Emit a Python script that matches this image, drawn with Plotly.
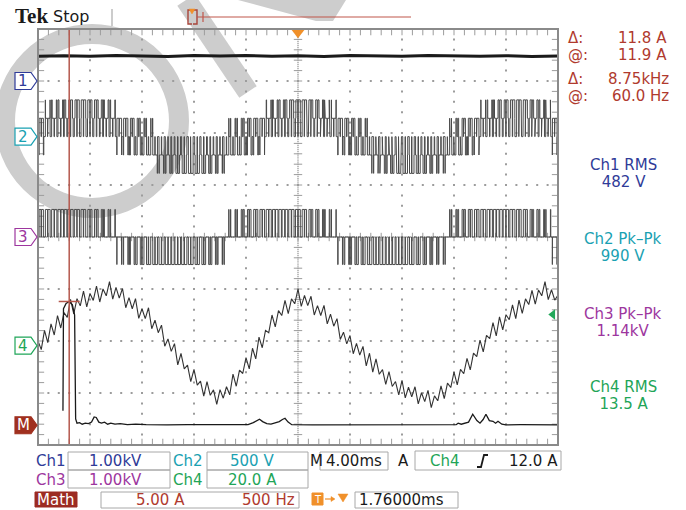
import plotly.graph_objects as go

W, H = 686, 510
GX0, GX1 = 38, 558      # graticule left/right (px)
GY0, GY1 = 29, 445      # graticule top/bottom (px)

# ---------------- channel setup ----------------
time_per_div = 4.0          # ms/div
t_left = -20.0              # ms at left edge
ch1_scale, ch1_pos = 1000.0, 3.0     # V/div, divisions above centre
ch2_scale, ch2_pos = 500.0, 1.93
ch3_scale, ch3_pos = 1000.0, 0.0
ch4_scale, ch4_pos = 20.0, -2.09
math_scale, math_pos = 5.0, -3.62
freq_per_div = 500.0        # Hz/div
freq_left = -240.0          # Hz at left edge

# ---------------- data ----------------
# Ch1: DC link voltage (V)
ch1_t = [-20, -18, -16, -14, -12, -10, -8, -6, -4, -2, 0, 2, 4, 6, 8, 10, 12, 14, 16, 18, 20]
ch1_v = [478, 486, 474, 490, 481, 470, 488, 479, 492, 476, 484, 471, 489, 480, 475, 491, 482, 477, 486, 473, 483]

# Inverter leg duty cycles, one value per 0.5 ms switching period (centred pulses)
pwm_period = 0.5
v_dc = 530.0
leg_a = [0.659, 0.735, 0.803, 0.860, 0.904, 0.934, 0.949, 0.947, 0.931, 0.898,
         0.852, 0.793, 0.724, 0.648, 0.566, 0.481, 0.397, 0.317, 0.244, 0.179,
         0.126, 0.086, 0.060, 0.050, 0.056, 0.078, 0.114, 0.165, 0.226, 0.298,
         0.377, 0.460, 0.545, 0.627, 0.706, 0.777, 0.838, 0.888, 0.923, 0.945,
         0.950, 0.939, 0.913, 0.872, 0.818, 0.753, 0.679, 0.598, 0.515, 0.430,
         0.348, 0.271, 0.203, 0.145, 0.100, 0.068, 0.052, 0.052, 0.067, 0.098,
         0.143, 0.201, 0.269, 0.345, 0.427, 0.511, 0.595, 0.676, 0.750, 0.815,
         0.870, 0.911, 0.938, 0.950, 0.945, 0.925, 0.890, 0.841, 0.780, 0.709]
leg_b = [0.056, 0.050, 0.060, 0.086, 0.126, 0.180, 0.244, 0.319, 0.398, 0.482,
         0.567, 0.649, 0.726, 0.794, 0.853, 0.899, 0.931, 0.948, 0.949, 0.934,
         0.903, 0.859, 0.802, 0.734, 0.658, 0.577, 0.492, 0.408, 0.328, 0.253,
         0.186, 0.132, 0.090, 0.063, 0.050, 0.055, 0.074, 0.109, 0.157, 0.217,
         0.288, 0.366, 0.449, 0.533, 0.617, 0.696, 0.768, 0.831, 0.882, 0.920,
         0.943, 0.950, 0.941, 0.917, 0.878, 0.826, 0.762, 0.689, 0.610, 0.526,
         0.441, 0.359, 0.281, 0.212, 0.152, 0.105, 0.072, 0.053, 0.051, 0.064,
         0.093, 0.136, 0.193, 0.259, 0.334, 0.416, 0.500, 0.584, 0.665, 0.740]
leg_c = [0.785, 0.715, 0.637, 0.555, 0.470, 0.387, 0.307, 0.234, 0.172, 0.119,
         0.081, 0.058, 0.050, 0.058, 0.082, 0.120, 0.172, 0.235, 0.308, 0.387,
         0.471, 0.556, 0.638, 0.716, 0.786, 0.846, 0.894, 0.928, 0.946, 0.949,
         0.937, 0.908, 0.865, 0.811, 0.744, 0.669, 0.587, 0.503, 0.419, 0.338,
         0.262, 0.195, 0.138, 0.095, 0.065, 0.050, 0.053, 0.071, 0.103, 0.150,
         0.209, 0.279, 0.356, 0.437, 0.522, 0.606, 0.686, 0.759, 0.823, 0.876,
         0.916, 0.941, 0.950, 0.943, 0.921, 0.884, 0.833, 0.771, 0.699, 0.620,
         0.537, 0.452, 0.369, 0.292, 0.221, 0.159, 0.110, 0.075, 0.055, 0.050]

# Ch4: phase current (A), sampled every 0.25 ms
ch4_dt = 0.25
ch4_i = [1.8, -1.5, 5.9, 1.2, 8.4, 4.1, 11.6, 6.8, 12.7, 10.9,
         17.8, 12.2, 18.1, 15.3, 21.0, 14.9, 20.1, 17.4, 22.9, 16.8,
         21.8, 19.2, 24.6, 17.9, 22.4, 18.3, 22.0, 14.6, 18.5, 14.2,
         18.1, 10.5, 14.2, 10.4, 14.6, 6.5, 9.8, 5.0, 7.9, -0.2,
         2.6, -2.2, 0.8, -7.4, -3.0, -8.9, -7.5, -13.8, -9.1, -15.2,
         -13.6, -19.4, -13.8, -19.1, -17.0, -22.6, -16.9, -20.2, -15.8, -18.9,
         -10.9, -15.6, -9.4, -10.7, -4.6, -8.9, -1.0, -5.1, 3.3, -0.8,
         5.9, 5.0, 11.8, 7.2, 13.5, 11.6, 17.4, 12.3, 18.0, 16.1,
         21.8, 15.1, 19.3, 15.4, 19.0, 11.8, 15.4, 11.6, 15.5, 8.4,
         12.1, 7.5, 10.4, 2.4, 5.2, 0.7, 3.9, -3.1, 0.9, -3.6,
         -0.3, -7.8, -2.9, -10.2, -5.1, -11.0, -9.2, -14.9, -10.0, -15.7,
         -13.8, -18.9, -13.3, -20.1, -16.0, -19.7, -15.8, -22.4, -18.1, -21.5,
         -17.2, -23.8, -19.3, -21.2, -15.5, -20.4, -14.4, -16.1, -10.2, -15.1,
         -9.1, -10.8, -4.9, -9.3, -2.9, -4.2, 2.1, -2.4, 4.0, 2.7,
         8.9, 3.8, 11.1, 6.1, 11.9, 10.0, 15.7, 10.4, 17.5, 12.4,
         18.0, 15.8, 21.3, 16.0, 21.4, 19.2, 24.6, 17.7, 21.5, 17.5,
         19.5]

# Math: FFT of Ch4 (Hz, A)
fft_f = [0, 5, 30, 60, 90, 112, 122, 135, 160, 185, 215, 245, 275, 300, 320, 345, 370,
         400, 430, 460, 500, 550, 620, 700, 800, 900, 1000, 1200, 1400, 1600, 1780,
         1830, 1860, 1890, 1920, 1960, 2000, 2040, 2080, 2110, 2135, 2165, 2200, 2400,
         2800, 3200, 3600, 3780, 3800, 3830, 3900, 3940, 3980, 4010, 4040, 4067, 4100,
         4135, 4160, 4183, 4220, 4260, 4400, 4760]
fft_a = [1.4, 11.2, 11.7, 11.9, 11.6, 10.6, 0.6, 0.2, 0.25, 0.1, 0.2, 0.15, 0.3, 0.8,
         0.75, 0.3, 0.2, 0.3, 0.1, 0.2, 0.1, 0.15, 0.05, 0.1, 0.05, 0.08, 0.04, 0.05,
         0.04, 0.05, 0.06, 0.25, 0.45, 0.58, 0.35, 0.15, 0.1, 0.2, 0.35, 0.55, 0.67,
         0.3, 0.05, 0.04, 0.05, 0.04, 0.05, 0.05, 0.2, 0.1, 0.3, 1.06, 0.45, 0.2,
         0.55, 1.06, 0.45, 0.38, 0.2, 0.38, 0.1, 0.04, 0.05, 0.04]

cursor_freq = 60.0
cursor_amp = 11.9

# ---------------- helpers ----------------
def xp(x):
    return x / W


def yp(y):
    return 1 - y / H


def yrange(scale, pos):
    return [(-4 - pos) * scale, (4 - pos) * scale]


def inverter_output(weights):
    """Step waveform sum(w * leg_state) * v_dc for centred leg pulses."""
    legs = (leg_a, leg_b, leg_c)
    xs, ys = [], []
    for k in range(len(leg_a)):
        t0 = t_left + k * pwm_period
        events = []
        for leg, w in zip(legs, weights):
            d = leg[k]
            events.append((t0 + (1 - d) / 2 * pwm_period, w))
            events.append((t0 + (1 + d) / 2 * pwm_period, -w))
        events.sort()
        level = 0.0
        xs.append(t0); ys.append(0.0)
        for t, dw in events:
            xs.append(t); ys.append(level * v_dc)
            level += dw
            xs.append(t); ys.append(level * v_dc)
    xs.append(t_left + len(leg_a) * pwm_period); ys.append(0.0)
    return xs, ys


def paper_path(points, close=True):
    p = "M " + " L ".join(f"{xp(a):.5f},{yp(b):.5f}" for a, b in points)
    return p + (" Z" if close else "")


fig = go.Figure()

# faint background emblem
SHADE = "#cdcdcd"
fig.add_shape(type="circle", xref="paper", yref="paper", layer="below",
              x0=xp(92 - 87), x1=xp(92 + 87), y0=yp(121 + 87), y1=yp(121 - 87),
              line=dict(color=SHADE, width=20))
fig.add_shape(type="line", xref="paper", yref="paper", layer="below",
              x0=xp(186), y0=yp(0), x1=xp(248), y1=yp(92),
              line=dict(color=SHADE, width=21))
fig.add_shape(type="path", xref="paper", yref="paper", layer="below",
              path=paper_path([(238, 0), (346, 0), (333, 21), (316, 21)]),
              fillcolor=SHADE, line=dict(width=0))

# ---------------- graticule ----------------
GRID = "#9c9c9c"
dx, dy = [], []
for i in range(1, 10):
    if i == 5:
        continue
    for j in range(41):
        dx.append(t_left + i * time_per_div)
        dy.append(-4 + 0.2 * j)
for j in range(1, 8):
    if j == 4:
        continue
    for i in range(51):
        dx.append(t_left + 0.8 * i)
        dy.append(-4 + j)
fig.add_trace(go.Scatter(x=dx, y=dy, mode="markers", hoverinfo="skip",
                         marker=dict(symbol="square", size=2, color=GRID, line_width=0)))

# centre cross (fine dotted) and minor ticks
cx, cy = [], []
for j in range(201):
    cx.append(0); cy.append(-4 + 0.04 * j)
for i in range(251):
    cx.append(t_left + 0.16 * i); cy.append(0)
fig.add_trace(go.Scatter(x=cx, y=cy, mode="markers", hoverinfo="skip",
                         marker=dict(symbol="square", size=1.3, color=GRID, line_width=0)))
tx_ns, ty_ns, tx_ew, ty_ew = [], [], [], []
for i in range(51):
    tt = t_left + 0.8 * i
    for yy in (-3.96, 0, 3.96):
        tx_ns.append(tt); ty_ns.append(yy)
for j in range(41):
    vv = -4 + 0.2 * j
    for tt in (-19.85, 0, 19.85):
        tx_ew.append(tt); ty_ew.append(vv)
fig.add_trace(go.Scatter(x=tx_ns, y=ty_ns, mode="markers", hoverinfo="skip",
                         marker=dict(symbol="line-ns", size=6, line=dict(width=1, color=GRID))))
fig.add_trace(go.Scatter(x=tx_ew, y=ty_ew, mode="markers", hoverinfo="skip",
                         marker=dict(symbol="line-ew", size=6, line=dict(width=1, color=GRID))))

# ---------------- waveforms ----------------
x3, y3 = inverter_output((1.0, -1.0, 0.0))                  # line-to-line a-b
fig.add_trace(go.Scatter(x=x3, y=y3, yaxis="y4", mode="lines", hoverinfo="skip",
                         line=dict(color="#4a4a4a", width=1)))
x2, y2 = inverter_output((2 / 3, -1 / 3, -1 / 3))           # phase a to neutral
fig.add_trace(go.Scatter(x=x2, y=y2, yaxis="y3", mode="lines", hoverinfo="skip",
                         line=dict(color="#4a4a4a", width=1)))
fig.add_trace(go.Scatter(x=ch1_t, y=ch1_v, yaxis="y2", mode="lines", hoverinfo="skip",
                         line=dict(color="#1a1a1a", width=3)))
ch4_t = [t_left + ch4_dt * k for k in range(len(ch4_i))]
fig.add_trace(go.Scatter(x=ch4_t, y=ch4_i, yaxis="y5", mode="lines", hoverinfo="skip",
                         line=dict(color="#333333", width=1.1)))
fig.add_trace(go.Scatter(x=fft_f, y=fft_a, xaxis="x2", yaxis="y6", mode="lines",
                         hoverinfo="skip", line=dict(color="#1a1a1a", width=1.3)))

# cursors
CUR = "#b5584d"
fig.add_shape(type="line", xref="x2", yref="paper", x0=cursor_freq, x1=cursor_freq,
              y0=yp(GY1), y1=yp(GY0), line=dict(color=CUR, width=1.5))
fig.add_trace(go.Scatter(x=[cursor_freq], y=[cursor_amp], xaxis="x2", yaxis="y6",
                         mode="markers", hoverinfo="skip",
                         marker=dict(symbol="line-ew", size=15, line=dict(width=1.5, color=CUR))))

# border
fig.add_shape(type="rect", xref="paper", yref="paper", x0=xp(GX0), x1=xp(GX1),
              y0=yp(GY1), y1=yp(GY0), line=dict(color="#8a8a8a", width=2))

# trigger position and level markers
ORANGE = "#f0902a"
fig.add_trace(go.Scatter(x=[0], y=[3.93], mode="markers", hoverinfo="skip",
                         marker=dict(symbol="triangle-down", size=11, color=ORANGE)))
fig.add_trace(go.Scatter(x=[19.6], y=[12.0], yaxis="y5", mode="markers", hoverinfo="skip",
                         marker=dict(symbol="triangle-left", size=9, color="#22a85a")))

# ---------------- channel markers ----------------
def chan_marker(yc, color, label, filled=False):
    x_l, x_r, tip, h = 15, 31, 37, 17
    pts = [(x_l, yc - h / 2), (x_r, yc - h / 2), (tip, yc), (x_r, yc + h / 2), (x_l, yc + h / 2)]
    fig.add_shape(type="path", xref="paper", yref="paper", path=paper_path(pts),
                  fillcolor=color if filled else "white",
                  line=dict(color=color, width=1.2))
    fig.add_annotation(x=xp(23), y=yp(yc), xref="paper", yref="paper", text=label,
                       showarrow=False, xanchor="center", yanchor="middle", borderpad=0,
                       font=dict(family="DejaVu Sans", size=15,
                                 color="white" if filled else color))


C1, C2, C3, C4, CM = "#2f3b98", "#1aa1b2", "#9d369e", "#1fa558", "#a0301f"
gc = lambda pos: 237 - pos * 52
chan_marker(gc(ch1_pos), C1, "1")
chan_marker(gc(ch2_pos), C2, "2")
chan_marker(gc(ch3_pos), C3, "3")
chan_marker(gc(ch4_pos), C4, "4")
chan_marker(gc(math_pos), CM, "M", filled=True)

# ---------------- text helpers ----------------
FONT = "DejaVu Sans"


def txt(x, y, s, color="#1a1a1a", size=15, anchor="left", family=FONT):
    fig.add_annotation(x=xp(x), y=yp(y), xref="paper", yref="paper", text=s,
                       showarrow=False, xanchor=anchor, yanchor="middle", borderpad=0,
                       font=dict(family=family, size=size, color=color))


def stack(x, y_first, y_last, lines, color, anchor="left", glyph=15):
    """Two-line readout with tight line pitch: the block font sets the pitch,
    the spans set the glyph size."""
    pitch = (y_last - y_first) / (len(lines) - 1)
    body = "<br>".join(f"<span style='font-size:{glyph}px'>{s}</span>" for s in lines)
    fig.add_annotation(x=xp(x), y=yp((y_first + y_last) / 2), xref="paper", yref="paper",
                       text=body, showarrow=False, xanchor=anchor, yanchor="middle",
                       align=anchor, borderpad=0,
                       font=dict(family=FONT, size=pitch / 1.3, color=color))


def box(x0, y0, x1, y1, color="#a8a8a8", fill=None):
    fig.add_shape(type="rect", xref="paper", yref="paper", x0=xp(x0), x1=xp(x1),
                  y0=yp(y1), y1=yp(y0), line=dict(color=color, width=1),
                  fillcolor=fill if fill else "rgba(0,0,0,0)")


# header
txt(14, 16, "<b>Tek</b>", size=21, family="Liberation Serif")
txt(52, 16, "Stop", size=16)
fig.add_shape(type="line", xref="paper", yref="paper", x0=xp(112), x1=xp(112),
              y0=yp(9), y1=yp(26), line=dict(color="#999999", width=1))
fig.add_shape(type="path", xref="paper", yref="paper",
              path=paper_path([(192, 10), (188, 10), (188, 24), (192, 24)], close=False),
              line=dict(color="#a8443a", width=1.4))
fig.add_shape(type="path", xref="paper", yref="paper",
              path=paper_path([(193, 10), (197, 10), (197, 24), (193, 24)], close=False),
              line=dict(color="#a8443a", width=1.4))
fig.add_shape(type="path", xref="paper", yref="paper",
              path=paper_path([(189, 9), (195, 9), (192, 14)]),
              fillcolor=ORANGE, line=dict(color=ORANGE, width=0.5))
fig.add_shape(type="line", xref="paper", yref="paper", x0=xp(197), x1=xp(411),
              y0=yp(17), y1=yp(17), line=dict(color="#c0564a", width=1.2))
fig.add_shape(type="line", xref="paper", yref="paper", x0=xp(203), x1=xp(203),
              y0=yp(12), y1=yp(22), line=dict(color="#c0564a", width=1.2))

# cursor readouts
RED = "#b03a2e"
stack(567, 37.5, 54.5, ["Δ:", "@:"], RED)
stack(668, 37.5, 54.5, ["11.8 A", "11.9 A"], RED, anchor="right")
stack(567, 79, 96, ["Δ:", "@:"], RED)
stack(670, 79, 96, ["8.75kHz", "60.0 Hz"], RED, anchor="right")

# measurements
stack(623, 165, 182, ["Ch1 RMS", "482 V"], C1, anchor="center")
stack(623, 238.5, 255.5, ["Ch2 Pk\u2013Pk", "990 V"], C2, anchor="center")
stack(623, 313.5, 330.5, ["Ch3 Pk\u2013Pk", "1.14kV"], C3, anchor="center")
stack(623, 387, 404, ["Ch4 RMS", "13.5 A"], C4, anchor="center")

# bottom status area
box(68, 452, 170, 470); box(207, 452, 308, 470)
box(68, 470, 170, 488); box(207, 470, 308, 488)
box(320, 452, 388, 470)
box(415, 451, 561, 470)
box(101, 492, 299, 508)
box(355, 492, 458, 508)
box(35, 492, 77, 507, color="#9c2b22", fill="#9c2b22")

txt(35, 461, "Ch1", C1)
txt(115, 461, "1.00kV", C1, anchor="center")
txt(172, 461, "Ch2", C2)
txt(252, 461, "500 V", C2, anchor="center")
txt(309, 461, "M", "#1a1a1a")
txt(354, 461, "4.00ms", "#1a1a1a", anchor="center")
txt(397, 461, "A", "#1a1a1a")
txt(429, 461, "Ch4", C4)
txt(559, 461, "12.0 A", "#1a1a1a", anchor="right")
fig.add_shape(type="path", xref="paper", yref="paper",
              path=paper_path([(477, 467), (481, 467), (484, 455), (488, 455)], close=False),
              line=dict(color="#1a1a1a", width=1.8))

txt(35, 480, "Ch3", C3)
txt(115, 480, "1.00kV", C3, anchor="center")
txt(172, 480, "Ch4", C4)
txt(252, 480, "20.0 A", C4, anchor="center")

txt(56, 499.5, "Math", "white", anchor="center")
txt(160, 499.5, "5.00 A", RED, anchor="center")
txt(268, 499.5, "500 Hz", RED, anchor="center")
box(312, 493, 323, 505, color=ORANGE, fill=ORANGE)
txt(317.5, 499, "T", "white", size=10, anchor="center")
fig.add_shape(type="line", xref="paper", yref="paper", x0=xp(325), x1=xp(334),
              y0=yp(499), y1=yp(499), line=dict(color=ORANGE, width=1.2))
fig.add_shape(type="path", xref="paper", yref="paper",
              path=paper_path([(331, 496.5), (335, 499), (331, 501.5)]),
              fillcolor=ORANGE, line=dict(color=ORANGE, width=0.5))
fig.add_shape(type="path", xref="paper", yref="paper",
              path=paper_path([(338, 494), (348, 494), (343, 502)]),
              fillcolor=ORANGE, line=dict(color=ORANGE, width=0.5))
txt(358, 499.5, "1.76000ms", "#1a1a1a")

# ---------------- axes ----------------
dom_x = [xp(GX0), xp(GX1)]
dom_y = [yp(GY1), yp(GY0)]
hidden = dict(visible=False, showgrid=False, zeroline=False, fixedrange=True)
fig.update_layout(
    width=W, height=H, margin=dict(l=0, r=0, t=0, b=0),
    paper_bgcolor="white", plot_bgcolor="rgba(0,0,0,0)", showlegend=False,
    xaxis=dict(domain=dom_x, range=[t_left, t_left + 10 * time_per_div], **hidden),
    xaxis2=dict(domain=dom_x, overlaying="x", range=[freq_left, freq_left + 10 * freq_per_div], **hidden),
    yaxis=dict(domain=dom_y, range=[-4, 4], **hidden),
    yaxis2=dict(domain=dom_y, overlaying="y", range=yrange(ch1_scale, ch1_pos), **hidden),
    yaxis3=dict(domain=dom_y, overlaying="y", range=yrange(ch2_scale, ch2_pos), **hidden),
    yaxis4=dict(domain=dom_y, overlaying="y", range=yrange(ch3_scale, ch3_pos), **hidden),
    yaxis5=dict(domain=dom_y, overlaying="y", range=yrange(ch4_scale, ch4_pos), **hidden),
    yaxis6=dict(domain=dom_y, overlaying="y", range=yrange(math_scale, math_pos), **hidden),
)

fig.write_html("out.html")
